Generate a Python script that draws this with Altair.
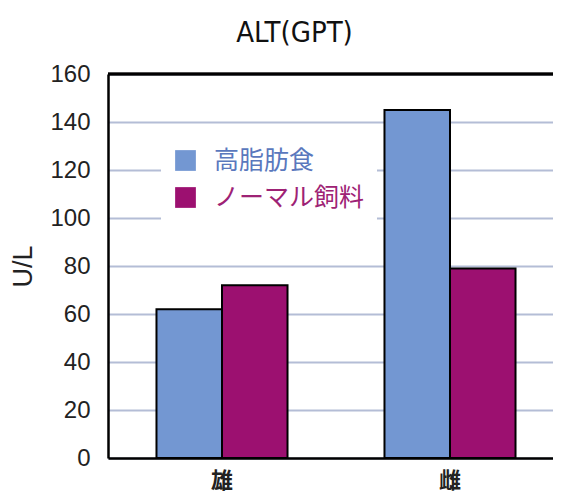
import altair as alt
import pandas as pd

sexes = ["雄", "雄", "雌", "雌"]
diets = ["高脂肪食", "ノーマル飼料", "高脂肪食", "ノーマル飼料"]
values = [62, 72, 145, 79]
sex_order = ["雄", "雌"]
diet_order = ["高脂肪食", "ノーマル飼料"]
bar_colors = ["#7397d2", "#9c1070"]
y_ticks = [0, 20, 40, 60, 80, 100, 120, 140, 160]

df = pd.DataFrame({"sex": sexes, "diet": diets, "value": values})

y_scale = alt.Scale(domain=[0, 160], nice=False)

bars = alt.Chart(df).mark_bar(stroke="black", strokeWidth=2).encode(
    x=alt.X("sex:N", sort=sex_order,
            scale=alt.Scale(domain=sex_order, range=[0, 456], paddingInner=0, paddingOuter=0),
            axis=alt.Axis(title=None, labelAngle=0, labelFont="Noto Sans CJK JP",
                          labelFontSize=22, labelFontWeight="bold", labelColor="#222",
                          labelPadding=12, ticks=False, domainColor="black",
                          domainWidth=2.5, grid=False)),
    xOffset=alt.XOffset("diet:N", sort=diet_order,
                        scale=alt.Scale(domain=diet_order, paddingOuter=0.74, paddingInner=0)),
    y=alt.Y("value:Q", scale=y_scale,
            axis=alt.Axis(title="U/L", values=y_ticks, grid=True, gridColor="#b4bdd6",
                          gridWidth=2, domainColor="black", domainWidth=2.5, ticks=False,
                          labelFont="Liberation Sans", labelFontSize=24, labelColor="#222",
                          labelPadding=18, titleFont="Liberation Sans", titleFontSize=27,
                          titleFontWeight="normal", titleColor="#222", titlePadding=12)),
    color=alt.Color("diet:N", sort=diet_order,
                    scale=alt.Scale(domain=diet_order, range=bar_colors),
                    legend=alt.Legend(title=None, orient="none", legendX=53, legendY=62,
                                      fillColor="white", padding=12, symbolType="square",
                                      symbolSize=430, symbolStrokeWidth=0,
                                      labelFont="Noto Sans CJK JP", labelFontSize=25,
                                      labelOffset=16, rowPadding=11, labelLimit=300,
                                      labelColor={"expr": "datum.value == '高脂肪食' ? '#5a78bd' : '#9e2275'"})),
)

top_rule = alt.Chart(df).mark_rule(color="black", strokeWidth=2.5).encode(
    y=alt.datum(160, scale=y_scale)
)

chart = alt.layer(bars, top_rule).properties(
    width=445,
    height=384,
    padding={"left": 100, "top": 66, "right": 0, "bottom": 35},
    autosize=alt.AutoSizeParams(type="none"),
    title=alt.TitleParams("ALT(GPT)", font="DejaVu Sans Condensed, Liberation Sans",
                          fontSize=29, fontWeight="normal", color="#111", anchor="middle",
                          dx=-36, frame="group", baseline="alphabetic", offset=0, dy=9),
).configure_view(stroke=None).configure(background="white")

chart.save("out.html", embed_options={"renderer": "svg", "actions": False})
